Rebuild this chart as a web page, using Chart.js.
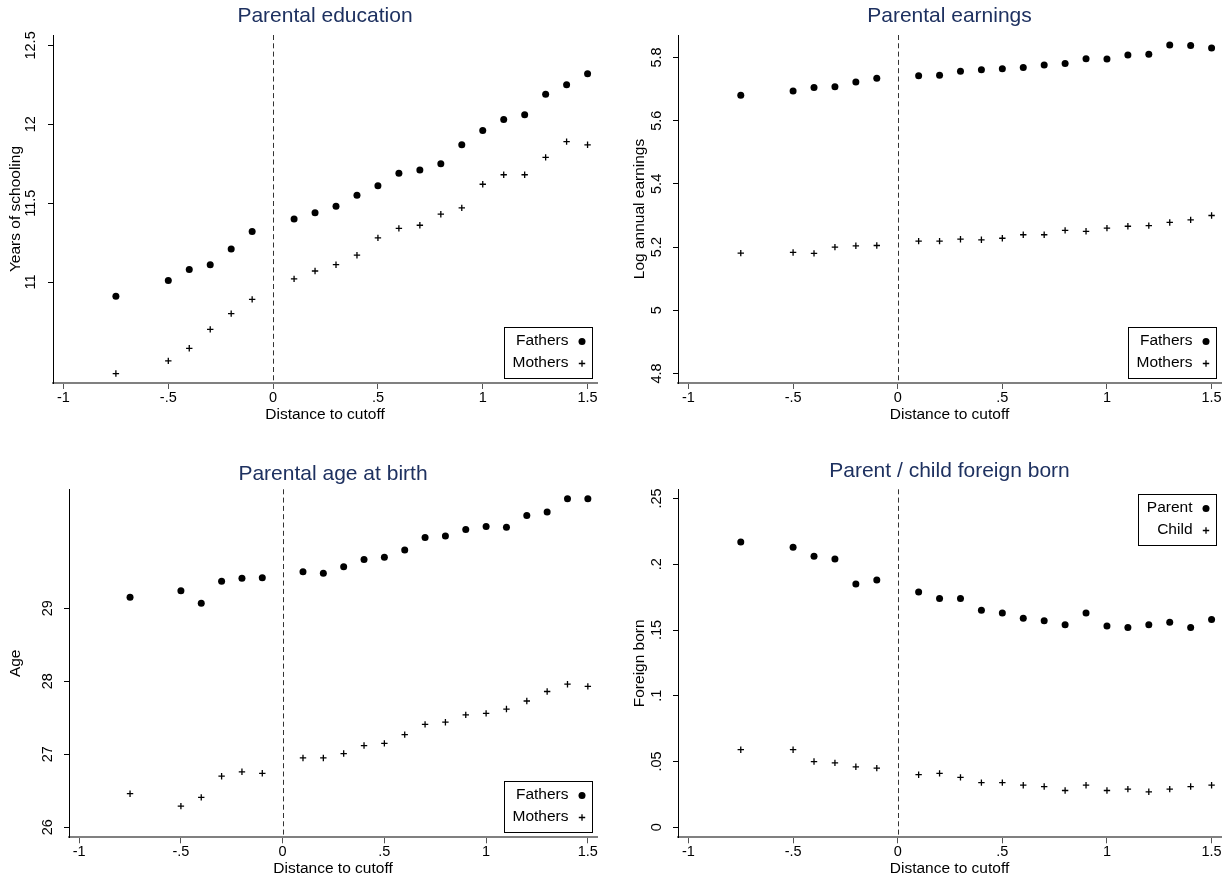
<!DOCTYPE html>
<html>
<head>
<meta charset="utf-8">
<script src="https://cdn.jsdelivr.net/npm/chart.js@4/dist/chart.umd.min.js"></script>
<style>
  html, body { margin: 0; padding: 0; background: #fff; }
  #page { position: relative; width: 1230px; height: 881px; overflow: hidden; }
  #page canvas { position: absolute; }
</style>
</head>
<body>
<div id="page">
  <canvas id="edu" width="615" height="440" style="left:0;top:0"></canvas>
  <canvas id="earn" width="615" height="440" style="left:615px;top:0"></canvas>
  <canvas id="age" width="615" height="441" style="left:0;top:440px"></canvas>
  <canvas id="foreign" width="615" height="441" style="left:615px;top:440px"></canvas>
</div>
<script>
// distance to cutoff (bins)
const xs = [-0.75, -0.5, -0.4, -0.3, -0.2, -0.1, 0.1, 0.2, 0.3, 0.4, 0.5, 0.6, 0.7, 0.8, 0.9, 1.0, 1.1, 1.2, 1.3, 1.4, 1.5];
const xTicks = [-1, -0.5, 0, 0.5, 1, 1.5];

const eduFathers = [10.91, 11.01, 11.08, 11.11, 11.21, 11.32, 11.40, 11.44, 11.48, 11.55, 11.61, 11.69, 11.71, 11.75, 11.87, 11.96, 12.03, 12.06, 12.19, 12.25, 12.32];
const eduMothers = [10.42, 10.50, 10.58, 10.70, 10.80, 10.89, 11.02, 11.07, 11.11, 11.17, 11.28, 11.34, 11.36, 11.43, 11.47, 11.62, 11.68, 11.68, 11.79, 11.89, 11.87];
const eduTicks = [11, 11.5, 12, 12.5];

const earnFathers = [5.680, 5.694, 5.705, 5.707, 5.722, 5.734, 5.742, 5.744, 5.756, 5.761, 5.764, 5.768, 5.776, 5.781, 5.796, 5.795, 5.808, 5.810, 5.839, 5.838, 5.830];
const earnMothers = [5.181, 5.183, 5.180, 5.200, 5.204, 5.205, 5.219, 5.219, 5.225, 5.223, 5.228, 5.239, 5.239, 5.253, 5.250, 5.260, 5.266, 5.268, 5.278, 5.286, 5.300];
const earnTicks = [4.8, 5, 5.2, 5.4, 5.6, 5.8];

const ageFathers = [29.15, 29.24, 29.07, 29.37, 29.41, 29.42, 29.50, 29.48, 29.57, 29.67, 29.70, 29.80, 29.97, 29.99, 30.08, 30.12, 30.11, 30.27, 30.32, 30.50, 30.50];
const ageMothers = [26.46, 26.29, 26.41, 26.70, 26.76, 26.74, 26.95, 26.95, 27.01, 27.12, 27.15, 27.27, 27.41, 27.44, 27.54, 27.56, 27.62, 27.73, 27.86, 27.96, 27.93];
const ageTicks = [26, 27, 28, 29];

const foreignParent = [0.217, 0.213, 0.206, 0.204, 0.185, 0.188, 0.179, 0.174, 0.174, 0.165, 0.163, 0.159, 0.157, 0.154, 0.163, 0.153, 0.152, 0.154, 0.156, 0.152, 0.158];
const foreignChild = [0.059, 0.059, 0.050, 0.049, 0.046, 0.045, 0.040, 0.041, 0.038, 0.034, 0.034, 0.032, 0.031, 0.028, 0.032, 0.028, 0.029, 0.027, 0.029, 0.031, 0.032];
const foreignTicks = [0, 0.05, 0.1, 0.15, 0.2, 0.25];

const FONT = '"Liberation Sans", Arial, Helvetica, sans-serif';
Chart.defaults.font.family = FONT;
Chart.defaults.color = '#000';

// stata style labels: .5, -.5
const fmt = v => String(Math.round(v * 1000) / 1000).replace(/^(-?)0\./, '$1.');

// dashed line at the cutoff
const cutoffLine = {
    id: 'cutoffLine',
    beforeDatasetsDraw(chart) {
        const { ctx, chartArea: a, scales: { x } } = chart;
        const px = Math.round(x.getPixelForValue(0)) + 0.5;
        ctx.save();
        ctx.strokeStyle = '#333';
        ctx.lineWidth = 1;
        ctx.setLineDash([5, 3.3]);
        ctx.beginPath();
        ctx.moveTo(px, a.top);
        ctx.lineTo(px, a.bottom);
        ctx.stroke();
        ctx.restore();
    }
};

// framed legend inside the plot, marker to the right of the label
const boxLegend = {
    id: 'boxLegend',
    afterDraw(chart, args, opts) {
        const { ctx, chartArea: a } = chart;
        const sets = chart.data.datasets;
        ctx.save();
        ctx.font = '15.5px ' + FONT;
        const tw = Math.max(...sets.map(d => ctx.measureText(d.label).width));
        const w = Math.round(8.5 + tw + 13.5 + 10), h = 51;
        const x = Math.round(a.right - 5 - w);
        const y = Math.round(opts.corner === 'tr' ? a.top + 5 : a.bottom - 5 - h);
        ctx.fillStyle = '#fff';
        ctx.fillRect(x, y, w, h);
        ctx.strokeStyle = '#000';
        ctx.lineWidth = 1;
        ctx.strokeRect(x + 0.5, y + 0.5, w, h);
        sets.forEach((d, i) => {
            const cy = y + 13.5 + i * 22;
            const mx = x + w - 10;
            ctx.fillStyle = '#000';
            ctx.textAlign = 'right';
            ctx.textBaseline = 'middle';
            ctx.fillText(d.label, mx - 13.5, cy);
            ctx.beginPath();
            if (d.pointStyle === 'circle') {
                ctx.arc(mx, cy + 1, 3.5, 0, Math.PI * 2);
                ctx.fill();
            } else {
                ctx.lineWidth = 1.3;
                ctx.moveTo(mx - 3.2, cy + 1); ctx.lineTo(mx + 3.2, cy + 1);
                ctx.moveTo(mx, cy - 2.2); ctx.lineTo(mx, cy + 4.2);
                ctx.stroke();
            }
        });
        ctx.restore();
    }
};

const pts = ys => xs.map((x, i) => ({ x, y: ys[i] }));

const makePanel = (id, p) => {
    const el = document.getElementById(id);
    new Chart(el.getContext('2d'), {
        type: 'scatter',
        data: {
            datasets: [
                {
                    label: p.labels[0],
                    data: pts(p.a),
                    pointStyle: 'circle',
                    pointRadius: 3.5,
                    backgroundColor: '#000',
                    borderColor: '#000',
                    borderWidth: 0
                },
                {
                    label: p.labels[1],
                    data: pts(p.b),
                    pointStyle: 'cross',
                    pointRadius: 3.2,
                    backgroundColor: '#000',
                    borderColor: '#000',
                    borderWidth: 1.3
                }
            ]
        },
        options: {
            responsive: false,
            animation: false,
            events: [],
            layout: {
                autoPadding: false,
                padding: { left: 0, right: p.padRight, top: 0, bottom: 0 }
            },
            plugins: {
                legend: { display: false },
                tooltip: { enabled: false },
                title: {
                    display: true,
                    text: p.title,
                    color: '#1e3160',
                    fullSize: false,
                    font: { size: 21, weight: 'normal', lineHeight: 1.2 },
                    padding: { top: p.titleTop, bottom: p.titleBottom }
                },
                boxLegend: { corner: p.legend }
            },
            scales: {
                x: {
                    type: 'linear',
                    min: -1.05,
                    max: 1.545,
                    afterBuildTicks: s => { s.ticks = xTicks.map(v => ({ value: v })); },
                    afterFit: s => { s.height = p.xHeight; },
                    border: { display: true, color: '#808080', width: 2 },
                    grid: { drawOnChartArea: false, drawTicks: true, tickLength: 6, color: '#555', lineWidth: 1 },
                    ticks: { callback: fmt, padding: 0.3, font: { size: 14.5 }, maxRotation: 0, color: '#000' },
                    title: {
                        display: true,
                        text: 'Distance to cutoff',
                        font: { size: 15.5, lineHeight: 1.2 },
                        padding: { top: 0, bottom: p.xTitleBottom },
                        color: '#000'
                    }
                },
                y: {
                    type: 'linear',
                    min: p.yMin,
                    max: p.yMax,
                    afterBuildTicks: s => { s.ticks = p.yTicks.map(v => ({ value: v })); },
                    afterFit: s => { s.width = p.yWidth; },
                    border: { display: true, color: '#000', width: 1 },
                    grid: { drawOnChartArea: false, drawTicks: true, tickLength: 5, color: '#000', lineWidth: 1 },
                    ticks: {
                        callback: fmt,
                        minRotation: 90,
                        maxRotation: 90,
                        crossAlign: 'center',
                        padding: p.yTickPad,
                        font: { size: 14.5 },
                        color: '#000'
                    },
                    title: {
                        display: true,
                        text: p.yTitle,
                        font: { size: 15.5, lineHeight: 1.2 },
                        padding: { top: p.yTitlePad, bottom: 0 },
                        color: '#000'
                    }
                }
            }
        },
        plugins: [cutoffLine, boxLegend]
    });
};

makePanel('edu', {
    title: 'Parental education', yTitle: 'Years of schooling',
    a: eduFathers, b: eduMothers, labels: ['Fathers', 'Mothers'],
    yMin: 10.36, yMax: 12.566, yTicks: eduTicks, legend: 'br',
    yWidth: 53, padRight: 18, titleTop: 4.1, titleBottom: 5.7,
    xHeight: 57, xTitleBottom: 15.7, yTickPad: 2.4, yTitlePad: 6.4
});

makePanel('earn', {
    title: 'Parental earnings', yTitle: 'Log annual earnings',
    a: earnFathers, b: earnMothers, labels: ['Fathers', 'Mothers'],
    yMin: 4.77, yMax: 5.871, yTicks: earnTicks, legend: 'br',
    yWidth: 63, padRight: 9, titleTop: 4.1, titleBottom: 5.7,
    xHeight: 57, xTitleBottom: 15.7, yTickPad: 6.4, yTitlePad: 15
});

makePanel('age', {
    title: 'Parental age at birth', yTitle: 'Age',
    a: ageFathers, b: ageMothers, labels: ['Fathers', 'Mothers'],
    yMin: 25.863, yMax: 30.63, yTicks: ageTicks, legend: 'br',
    yWidth: 69, padRight: 18, titleTop: 21.7, titleBottom: 2.4,
    xHeight: 43.7, xTitleBottom: 3.4, yTickPad: 8.4, yTitlePad: 6.4
});

makePanel('foreign', {
    title: 'Parent / child foreign born', yTitle: 'Foreign born',
    a: foreignParent, b: foreignChild, labels: ['Parent', 'Child'],
    yMin: -0.0076, yMax: 0.257, yTicks: foreignTicks, legend: 'tr',
    yWidth: 63, padRight: 9, titleTop: 18.4, titleBottom: 5.7,
    xHeight: 43.7, xTitleBottom: 3.4, yTickPad: 6.4, yTitlePad: 15
});
</script>
</body>
</html>
